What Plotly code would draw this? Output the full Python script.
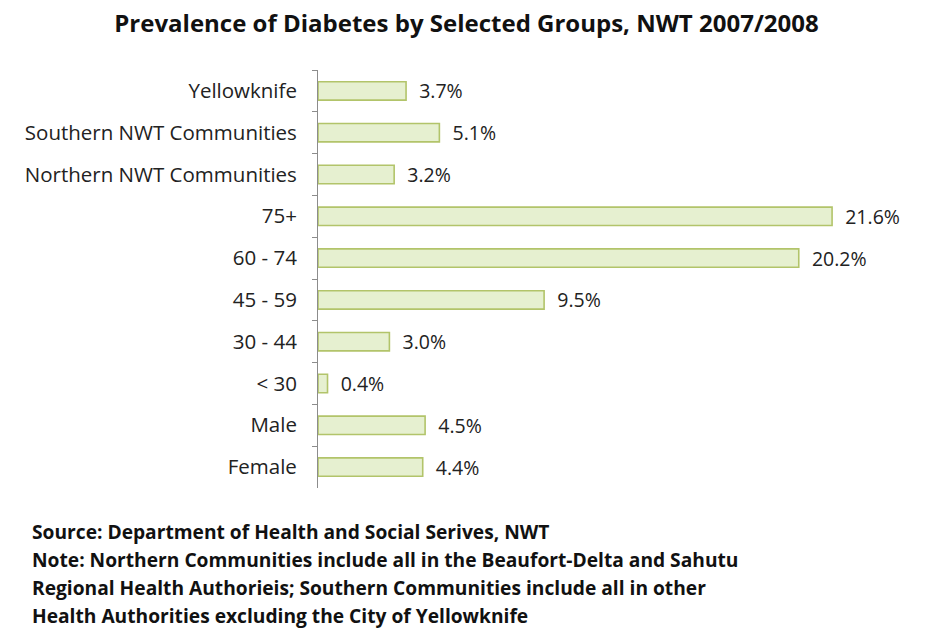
import plotly.graph_objects as go

# Prevalence of diabetes by group, NWT 2007/2008 (percent)
groups = [
    "Yellowknife",
    "Southern NWT Communities",
    "Northern NWT Communities",
    "75+",
    "60 - 74",
    "45 - 59",
    "30 - 44",
    "< 30",
    "Male",
    "Female",
]
prevalence = [3.7, 5.1, 3.2, 21.6, 20.2, 9.5, 3.0, 0.4, 4.5, 4.4]

title_text = "Prevalence of Diabetes by Selected Groups, NWT 2007/2008"
note_lines = [
    "Source: Department of Health and Social Serives, NWT",
    "Note: Northern Communities include all in the Beaufort-Delta and Sahutu",
    "Regional Health Authorieis; Southern Communities include all in other",
    "Health Authorities excluding the City of Yellowknife",
]

FONT = "Open Sans"

fig = go.Figure(
    go.Bar(
        x=prevalence,
        y=groups,
        orientation="h",
        width=0.44,
        marker=dict(color="#e6f0d0", line=dict(color="#b2c46a", width=1.6)),
        text=[f"{v:.1f}%" for v in prevalence],
        texttemplate="  %{text}",
        textposition="outside",
        constraintext="none",
        textfont=dict(family=FONT, size=19.5, color="#222222"),
        cliponaxis=False,
        hoverinfo="skip",
    )
)

annotations = []
for i, line in enumerate(note_lines):
    annotations.append(
        dict(
            text=f"<b>{line}</b>",
            xref="paper", yref="paper",
            x=-(318 - 30) / 600, xanchor="left",
            y=-(531 - 488 + i * 28) / 418, yanchor="middle",
            showarrow=False, align="left",
            font=dict(family=FONT, size=19.2, color="#111111"),
        )
    )

fig.update_layout(
    width=933,
    height=630,
    margin=dict(l=318, r=15, t=70, b=142),
    paper_bgcolor="white",
    plot_bgcolor="white",
    showlegend=False,
    title=dict(
        text=f"<b>{title_text}</b>",
        x=0.5, xanchor="center", y=1 - 24 / 630, yanchor="middle",
        font=dict(family=FONT, size=24, color="#111111"),
    ),
    xaxis=dict(
        range=[0, 600 / 23.8],
        visible=False,
        fixedrange=True,
    ),
    yaxis=dict(
        autorange="reversed",
        showline=True,
        linecolor="#8c8c8c",
        linewidth=1,
        ticks="outside",
        tickson="boundaries",
        ticklen=5,
        tickcolor="#8c8c8c",
        ticklabelstandoff=16,
        tickfont=dict(family=FONT, size=20.5, color="#222222"),
        showgrid=False,
        fixedrange=True,
    ),
    annotations=annotations,
)

fig.write_html("out.html")
